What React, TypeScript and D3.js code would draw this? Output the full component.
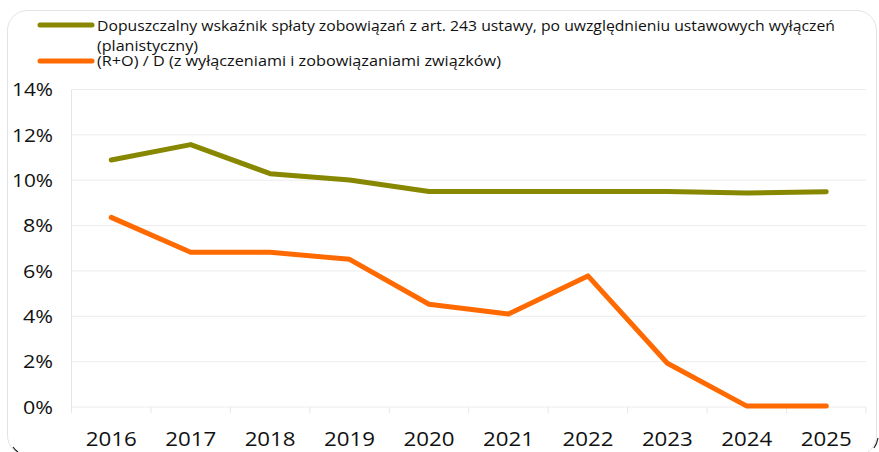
import React from "react";
import * as d3 from "d3";

const years = ["2016", "2017", "2018", "2019", "2020", "2021", "2022", "2023", "2024", "2025"];
const permittedRatio = [10.89, 11.57, 10.29, 10.01, 9.5, 9.5, 9.5, 9.5, 9.44, 9.49];
const actualRatio = [8.36, 6.82, 6.82, 6.51, 4.53, 4.1, 5.78, 1.93, 0.04, 0.04];
const yTicks = [0, 2, 4, 6, 8, 10, 12, 14];
const legendLabels = [
  "Dopuszczalny wskaźnik spłaty zobowiązań z art. 243 ustawy, po uwzględnieniu ustawowych wyłączeń",
  "(planistyczny)",
  "(R+O) / D (z wyłączeniami i zobowiązaniami związków)",
];
const seriesColors = ["#878700", "#ff6a00"];

const W = 879;
const H = 452;
const left = 71.5;
const right = 866;
const top = 89.5;
const bottom = 407;

export default function App() {
  const x = d3.scaleBand<string>().domain(years).range([left, right]).padding(0);
  const y = d3.scaleLinear().domain([0, 14]).range([bottom, top]);
  const cx = (d: string) => (x(d) as number) + x.bandwidth() / 2;
  const line = d3
    .line<number>()
    .x((_, i) => cx(years[i]))
    .y((v) => y(v));
  const font = "'Open Sans', 'DejaVu Sans', sans-serif";
  const boundaries = years.map((d) => x(d) as number).concat([right]);

  return (
    <svg
      width={W}
      height={H}
      style={{ position: "absolute", left: 0, top: 0, background: "#fff" }}
      fontFamily={font}
    >
      <rect x={7.5} y={10.5} width={869} height={445} rx={20} ry={20} fill="#fff" stroke="#e3e3e3" strokeWidth={1} />
      <path d="M13,447 Q15,450 18,452" fill="none" stroke="#222" strokeWidth={1.2} />
      <path d="M878,438 Q877,444 874,448" fill="none" stroke="#222" strokeWidth={1.2} />

      {/* gridlines */}
      {yTicks.map((t) => (
        <line key={t} x1={left} x2={right} y1={y(t)} y2={y(t)} stroke="#ececec" strokeWidth={1} />
      ))}
      <line x1={left} x2={left} y1={top} y2={bottom + 6} stroke="#e6e6e6" strokeWidth={1} />
      {boundaries.map((b, i) => (
        <line key={i} x1={b} x2={b} y1={bottom} y2={bottom + 6} stroke="#e6e6e6" strokeWidth={1} />
      ))}

      {/* y tick labels */}
      {yTicks.map((t) => {
        const label = t + "%";
        return (
          <text
            key={t}
            x={53}
            y={y(t)}
            dy="0.36em"
            textAnchor="end"
            fontSize={19}
            fill="#111"
            textLength={label.length === 3 ? 41 : 30}
            lengthAdjust="spacingAndGlyphs"
          >
            {label}
          </text>
        );
      })}
      {/* x tick labels */}
      {years.map((d) => (
        <text
          key={d}
          x={cx(d)}
          y={446}
          textAnchor="middle"
          fontSize={20}
          fill="#111"
          textLength={51}
          lengthAdjust="spacingAndGlyphs"
        >
          {d}
        </text>
      ))}

      {/* series */}
      <path d={line(permittedRatio) || ""} fill="none" stroke={seriesColors[0]} strokeWidth={5} strokeLinejoin="round" strokeLinecap="round" />
      <path d={line(actualRatio) || ""} fill="none" stroke={seriesColors[1]} strokeWidth={5} strokeLinejoin="round" strokeLinecap="round" />

      {/* legend */}
      <line x1={40} x2={92} y1={25} y2={25} stroke={seriesColors[0]} strokeWidth={5} strokeLinecap="round" />
      <line x1={40} x2={92} y1={61} y2={61} stroke={seriesColors[1]} strokeWidth={5} strokeLinecap="round" />
      <text x={97} y={31} fontSize={14} fill="#111" textLength={738} lengthAdjust="spacingAndGlyphs">
        {legendLabels[0]}
      </text>
      <text x={97} y={51} fontSize={14} fill="#111" textLength={101} lengthAdjust="spacingAndGlyphs">
        {legendLabels[1]}
      </text>
      <text x={97} y={66} fontSize={14} fill="#111" textLength={404} lengthAdjust="spacingAndGlyphs">
        {legendLabels[2]}
      </text>
    </svg>
  );
}
